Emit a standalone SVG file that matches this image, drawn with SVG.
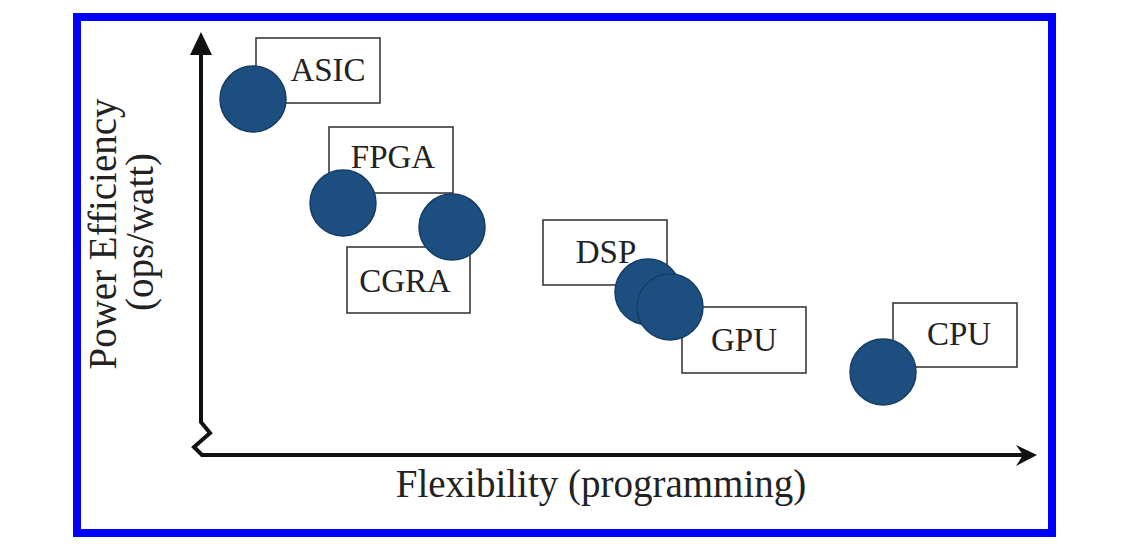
<svg xmlns="http://www.w3.org/2000/svg" width="1132" height="554" viewBox="0 0 1132 554">
  <style>
    .box { fill: #ffffff; stroke: #3a3a3a; stroke-width: 1.6; }
    .dot { fill: #1c4f7f; stroke: #163d63; stroke-width: 1.5; }
    .lbl { font-family: "Liberation Serif", "Times New Roman", serif; font-size: 33px; fill: #222222; text-anchor: middle; }
    .axl { font-family: "Liberation Serif", "Times New Roman", serif; font-size: 39px; fill: #222222; text-anchor: middle; }
    .axis { fill: none; stroke: #111111; stroke-width: 4; stroke-linejoin: miter; }
  </style>
  <rect x="0" y="0" width="1132" height="554" fill="#ffffff"/>
  <rect x="77" y="17" width="975" height="516" fill="none" stroke="#0000ff" stroke-width="8"/>

  <g id="axes">
    <path class="axis" d="M201,50 L201,422 L210,433 L194,447 L202,455 L1026,455"/>
    <polygon points="201,32 190,55 212,55" fill="#111111"/>
    <polygon points="1037,455 1016,445 1023,455 1016,466" fill="#111111"/>
  </g>

  <g id="axis-labels">
    <text class="axl" x="601" y="497">Flexibility (programming)</text>
    <text class="axl" transform="translate(116,234) rotate(-90)">Power Efficiency</text>
    <text class="axl" transform="translate(153,232) rotate(-90)">(ops/watt)</text>
  </g>

  <g id="node-asic">
    <rect class="box" x="256" y="38" width="124" height="65"/>
    <circle class="dot" cx="253" cy="99" r="33"/>
    <text class="lbl" x="328" y="81">ASIC</text>
  </g>

  <g id="node-fpga">
    <rect class="box" x="329" y="127" width="124" height="66"/>
    <circle class="dot" cx="343" cy="203" r="33"/>
    <text class="lbl" x="393" y="168">FPGA</text>
  </g>

  <g id="node-cgra">
    <rect class="box" x="347" y="247" width="123" height="66"/>
    <circle class="dot" cx="452" cy="227" r="33"/>
    <text class="lbl" x="405" y="292">CGRA</text>
  </g>

  <g id="node-dsp">
    <rect class="box" x="543" y="220" width="124" height="65"/>
    <circle class="dot" cx="648" cy="292" r="33"/>
    <text class="lbl" x="606" y="263">DSP</text>
  </g>

  <g id="node-gpu">
    <rect class="box" x="682" y="307" width="124" height="66"/>
    <circle class="dot" cx="670" cy="307" r="33"/>
    <text class="lbl" x="744" y="351">GPU</text>
  </g>

  <g id="node-cpu">
    <rect class="box" x="893" y="303" width="124" height="64"/>
    <circle class="dot" cx="883" cy="372" r="33"/>
    <text class="lbl" x="959" y="345">CPU</text>
  </g>

  <g id="connectors"></g>
</svg>
